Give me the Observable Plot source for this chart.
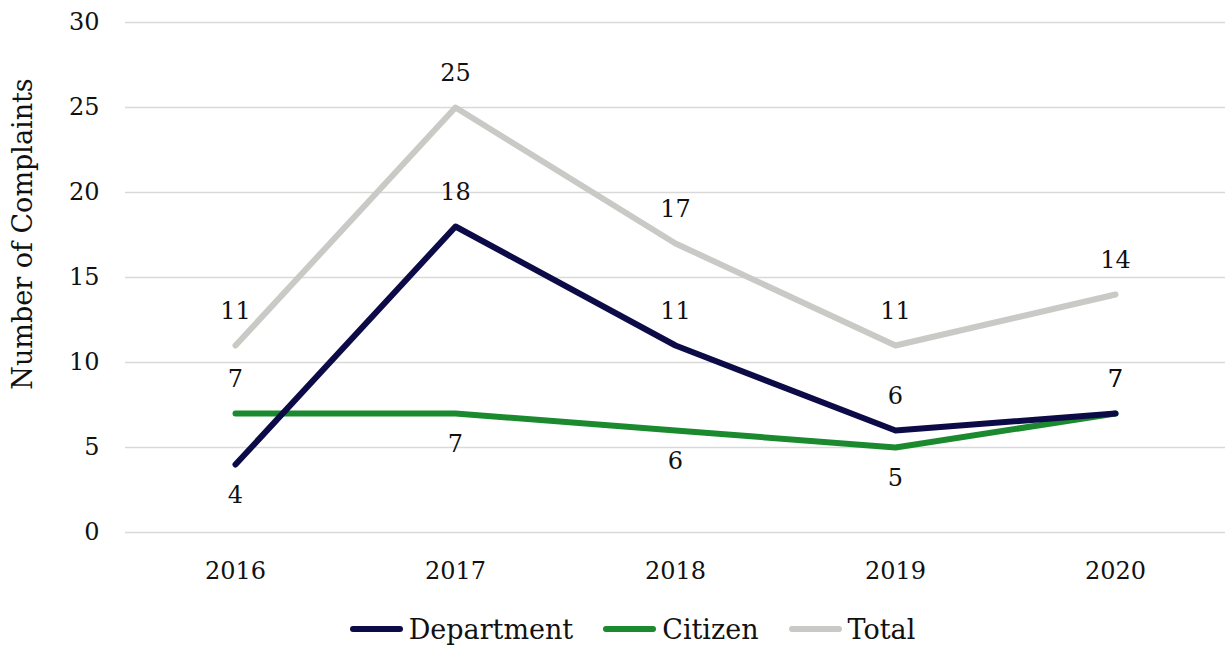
<!DOCTYPE html>
<html><head><meta charset="utf-8">
<script src="https://cdn.jsdelivr.net/npm/d3@7"></script>
<script src="https://cdn.jsdelivr.net/npm/@observablehq/plot@0.6"></script>
<style>
body{margin:0;background:#fff;font-family:"DejaVu Serif",serif;width:1225px;}
#wrap{position:relative;width:1225px;}
#ylab{position:absolute;left:22px;top:234px;transform:translate(-50%,-50%) rotate(-90deg);white-space:nowrap;font-size:27px;color:#111;}
#legend{display:flex;justify-content:center;align-items:center;height:54px;padding-top:4px;padding-left:40px;box-sizing:border-box;font-size:27px;color:#111;}
.item{display:flex;align-items:center;margin:0 15px;}
.sw{width:53px;height:6px;border-radius:3px;margin-right:6px;}
</style></head><body><div id="wrap"><div id="chart"></div><div id="ylab"></div></div><div id="legend"></div>
<script>
const years = ["2016","2017","2018","2019","2020"];
const department = [4,18,11,6,7];
const citizen = [7,7,6,5,7];
const total = [11,25,17,11,14];
const seriesNames = ["Department","Citizen","Total"];
const seriesColors = ["#0c0b47","#1b8a2e","#c9c9c5"];
const labelSides = {
  Department: ["below","above","above","above","above"],
  Citizen: ["above","below","below","below","above"],
  Total: ["above","above","above","above","above"]
};
const yTicks = [0,5,10,15,20,25,30];
const yLabel = "Number of Complaints";

const valuesBySeries = {Department: department, Citizen: citizen, Total: total};
const rows = [];
for (const s of seriesNames) {
  years.forEach((yr, i) => rows.push({series: s, year: yr, value: valuesBySeries[s][i], side: labelSides[s][i]}));
}
const colorOf = Object.fromEntries(seriesNames.map((s, i) => [s, seriesColors[i]]));
const drawOrder = ["Total","Citizen","Department"];

const marks = [
  Plot.ruleY(yTicks, {stroke: "#d9d9d9", strokeWidth: 1.5})
];
for (const s of drawOrder) {
  marks.push(Plot.line(rows.filter(d => d.series === s), {
    x: "year", y: "value", stroke: colorOf[s], strokeWidth: 6, strokeLinecap: "round", strokeLinejoin: "round"
  }));
}
marks.push(Plot.text(rows.filter(d => d.side === "above"), {x: "year", y: "value", text: d => String(d.value), dy: -34, fontSize: 24, fill: "#111"}));
marks.push(Plot.text(rows.filter(d => d.side === "below"), {x: "year", y: "value", text: d => String(d.value), dy: 31, fontSize: 24, fill: "#111"}));
marks.push(Plot.axisY({ticks: yTicks, tickSize: 0, tickPadding: 26, fontSize: 24, label: null}));
marks.push(Plot.axisX({tickSize: 0, tickPadding: 29, fontSize: 24, label: null}));

const chart = Plot.plot({
  width: 1225,
  height: 600,
  marginTop: 22,
  marginBottom: 68,
  marginLeft: 125,
  marginRight: 0,
  style: {fontFamily: "'DejaVu Serif', serif", color: "#111", background: "#fff"},
  x: {type: "point", domain: years, padding: 0.5},
  y: {domain: [0, 30]},
  marks
});
document.getElementById("chart").appendChild(chart);
document.getElementById("ylab").textContent = yLabel;

const legend = document.getElementById("legend");
seriesNames.forEach((s, i) => {
  const it = document.createElement("div");
  it.className = "item";
  const sw = document.createElement("div");
  sw.className = "sw";
  sw.style.background = seriesColors[i];
  const lb = document.createElement("span");
  lb.textContent = s;
  it.appendChild(sw); it.appendChild(lb);
  legend.appendChild(it);
});
</script></body></html>
